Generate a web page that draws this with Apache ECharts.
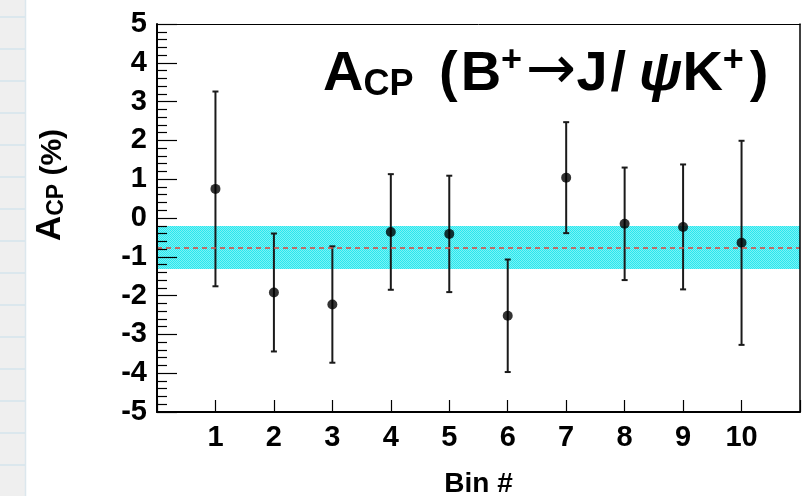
<!DOCTYPE html>
<html>
<head>
<meta charset="utf-8">
<title>ACP per bin</title>
<script src="https://cdn.jsdelivr.net/npm/echarts@6/dist/echarts.min.js"></script>
<style>
  html, body { margin: 0; padding: 0; background: #ffffff; }
  #chart { width: 806px; height: 496px; }
</style>
</head>
<body>
<div id="chart"></div>
<script>
// Measured CP asymmetry in each bin (percent) and its uncertainty
const bins = [1, 2, 3, 4, 5, 6, 7, 8, 9, 10];
const acpValues = [0.75, -1.92, -2.23, -0.36, -0.41, -2.52, 1.04, -0.15, -0.23, -0.64];
const acpErrors = [2.51, 1.52, 1.50, 1.49, 1.50, 1.45, 1.43, 1.45, 1.61, 2.63];

// Combined average and its uncertainty band
const meanAcp = -0.76;
const meanErr = 0.555;

// Axis ranges and tick labels
const xRange = [0, 11];
const yRange = [-5, 5];
const xTickLabels = ['1', '2', '3', '4', '5', '6', '7', '8', '9', '10'];

const FONT = '"Liberation Sans", Arial, Helvetica, sans-serif';

const points = bins.map((b, i) => [b, acpValues[i]]);
const errBars = bins.map((b, i) => [b, acpValues[i] - acpErrors[i], acpValues[i] + acpErrors[i]]);

// Cross-hatched cyan fill for the average band
function bandPattern() {
  const c = document.createElement('canvas');
  c.width = 2; c.height = 2;
  const ctx = c.getContext('2d');
  ctx.fillStyle = '#2ae7ee';
  ctx.fillRect(0, 0, 2, 2);
  ctx.fillStyle = '#7af2f5';
  ctx.fillRect(1, 0, 1, 1);
  ctx.fillRect(0, 1, 1, 1);
  return { image: c, repeat: 'repeat' };
}

// Page backdrop: ruled strip along the left edge
const backdrop = [{
  type: 'rect', left: 0, top: 0, z: -10,
  shape: { width: 25, height: 496 },
  style: { fill: '#efefef' }
}, {
  type: 'line', z: -9,
  shape: { x1: 25.5, y1: 0, x2: 25.5, y2: 496 },
  style: { stroke: '#dce7ed', lineWidth: 1.5 }
}];
for (let y = 17; y < 496; y += 32) {
  backdrop.push({
    type: 'line', z: -9,
    shape: { x1: 0, y1: y, x2: 25, y2: y },
    style: { stroke: '#d5e4ec', lineWidth: 1.5 }
  });
}

// Plot title with small-caps subscript and superscripts
const bold = { fontFamily: FONT, fontWeight: 'bold', fill: '#000' };
const big = (extra) => Object.assign({ fontSize: 56, lineHeight: 60, verticalAlign: 'bottom' }, bold, extra || {});
const title = {
  type: 'text', x: 323, y: 42.6, z: 20,
  style: {
    text: '{a|A}{cp|CP}{sp| }{par|(}{b|B}{sup|+}{arr|\u2192}{t|J}{sl|/}{psi|\u03c8}{t|K}{sup|+}{cl|)}',
    verticalAlign: 'top',
    align: 'left',
    lineHeight: 60,
    rich: {
      a:   big(),
      cp:  Object.assign({ fontSize: 36, lineHeight: 44, verticalAlign: 'bottom' }, bold),
      sp:  big(),
      par: big({ padding: [0, 0, 0, 10] }),
      b:   big({ padding: [0, 0, 0, 3] }),
      t:   big(),
      sl:  big({ padding: [0, 0, 0, 3] }),
      cl:  big({ padding: [0, 0, 0, 6] }),
      psi: big({ fontStyle: 'italic', padding: [0, 0, 0, 13] }),
      sup: Object.assign({ fontSize: 36, lineHeight: 41.6, verticalAlign: 'top' }, bold),
      arr: { fontFamily: '"DejaVu Sans", sans-serif', fontWeight: 'normal', fill: '#000', fontSize: 60, lineHeight: 46, verticalAlign: 'top', padding: [0, 0, 0, 4] }
    }
  }
};

// Rotated y-axis title
const yTitle = {
  type: 'text', x: 48, y: 185, rotation: Math.PI / 2, z: 20,
  style: {
    text: '{a|A}{cp|CP}{t| (%)}',
    align: 'center',
    verticalAlign: 'middle',
    lineHeight: 40,
    rich: {
      a:  Object.assign({ fontSize: 35, lineHeight: 40, verticalAlign: 'bottom' }, bold),
      cp: Object.assign({ fontSize: 23, lineHeight: 31.7, verticalAlign: 'bottom' }, bold),
      t:  Object.assign({ fontSize: 30, lineHeight: 36.6, verticalAlign: 'bottom' }, bold)
    }
  }
};

const chart = echarts.init(document.getElementById('chart'), null, { renderer: 'canvas' });

chart.setOption({
  animation: false,
  backgroundColor: '#ffffff',
  graphic: backdrop.concat([title, yTitle]),
  grid: { left: 157, right: 6, top: 24, bottom: 84, containLabel: false, outerBoundsMode: 'none' },
  xAxis: [{
    type: 'value', min: xRange[0], max: xRange[1], interval: 1, z: 10,
    name: 'Bin #', nameLocation: 'middle', nameGap: 58,
    nameTextStyle: { fontFamily: FONT, fontWeight: 'bold', fontSize: 28, color: '#000' },
    axisLine: { show: true, onZero: false, lineStyle: { color: '#000', width: 2 } },
    axisTick: { show: true, inside: true, length: 12, lineStyle: { color: '#000', width: 1.2 } },
    axisLabel: {
      margin: 11, fontFamily: FONT, fontWeight: 'bold', fontSize: 29, color: '#000',
      formatter: v => (v >= 1 && v <= xTickLabels.length) ? xTickLabels[v - 1] : ''
    },
    splitLine: { show: false }
  }, {
    type: 'value', position: 'top', min: xRange[0], max: xRange[1], z: 10,
    axisLine: { show: true, onZero: false, lineStyle: { color: '#000', width: 1 } },
    axisTick: { show: false }, axisLabel: { show: false }, splitLine: { show: false }
  }],
  yAxis: [{
    type: 'value', min: yRange[0], max: yRange[1], interval: 1, z: 10,
    axisLine: { show: true, onZero: false, lineStyle: { color: '#000', width: 2 } },
    axisTick: { show: true, inside: true, length: 20, lineStyle: { color: '#000', width: 1.2 } },
    minorTick: { show: true, splitNumber: 5, length: 10, lineStyle: { color: '#000', width: 1.2 } },
    axisLabel: { margin: 10, fontFamily: FONT, fontWeight: 'bold', fontSize: 29, color: '#000' },
    splitLine: { show: false }
  }, {
    type: 'value', position: 'right', min: yRange[0], max: yRange[1], z: 10,
    axisLine: { show: true, onZero: false, lineStyle: { color: '#000', width: 1.5 } },
    axisTick: { show: false }, axisLabel: { show: false }, splitLine: { show: false }
  }],
  series: [{
    // Average band and central value
    type: 'line', data: [], silent: true, z: 1,
    markArea: {
      silent: true,
      itemStyle: { color: bandPattern() },
      data: [[{ yAxis: meanAcp - meanErr, x: 157 }, { yAxis: meanAcp + meanErr, x: 800 }]]
    },
    markLine: {
      silent: true, symbol: 'none',
      lineStyle: { color: '#e0463c', type: [5, 4], width: 1.5 },
      label: { show: false },
      data: [{ yAxis: meanAcp }]
    }
  }, {
    // Vertical error bars with short caps
    type: 'custom', z: 3, silent: true,
    data: errBars,
    renderItem: (params, api) => {
      const x = api.value(0);
      const lo = api.coord([x, api.value(1)]);
      const hi = api.coord([x, api.value(2)]);
      const cap = 3;
      const st = { stroke: '#1a1a1a', lineWidth: 2 };
      return {
        type: 'group',
        children: [
          { type: 'line', shape: { x1: lo[0], y1: lo[1], x2: hi[0], y2: hi[1] }, style: st },
          { type: 'line', shape: { x1: lo[0] - cap, y1: lo[1], x2: lo[0] + cap, y2: lo[1] }, style: st },
          { type: 'line', shape: { x1: hi[0] - cap, y1: hi[1], x2: hi[0] + cap, y2: hi[1] }, style: st }
        ]
      };
    }
  }, {
    type: 'scatter', z: 4, silent: true,
    symbol: 'circle', symbolSize: 10,
    itemStyle: { color: '#000' },
    data: points
  }]
});
</script>
</body>
</html>
